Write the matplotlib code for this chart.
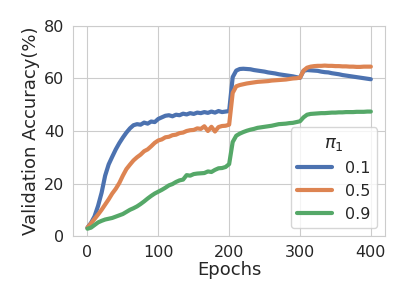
import matplotlib
matplotlib.use("Agg")
import matplotlib.pyplot as plt
import seaborn as sns
import numpy as np

sns.set_style("whitegrid")
plt.rcParams['font.family'] = ['DejaVu Sans']

epochs = list(range(0, 401, 5))

acc_01 = [3.2, 5.0, 7.5, 11.5, 16.5, 23.0, 27.3, 30.2, 33.0, 35.4,
          37.5, 39.4, 41.0, 42.2, 42.6, 42.4, 43.2, 42.8, 43.6, 43.4,
          44.6, 45.2, 45.8, 46.0, 45.6, 46.2, 46.0, 46.6, 46.3, 46.8,
          46.5, 47.0, 46.8, 47.2, 46.9, 47.4, 47.0, 47.6, 47.2, 47.4,
          47.6, 60.5, 63.0, 63.6, 63.7, 63.6, 63.5, 63.2, 63.0, 62.8,
          62.6, 62.3, 62.1, 61.9, 61.6, 61.4, 61.2, 61.0, 60.8, 60.5,
          60.2, 62.9, 63.2, 63.1, 63.0, 62.9, 62.6, 62.4, 62.3, 62.0,
          61.8, 61.6, 61.3, 61.1, 60.9, 60.7, 60.5, 60.3, 60.1, 59.9,
          59.7]

acc_05 = [3.2, 4.8, 6.5, 8.2, 10.0, 12.0, 14.0, 16.2, 18.0, 20.2,
          23.0, 25.5, 27.2, 28.8, 30.0, 31.0, 32.3, 33.0, 34.2, 35.5,
          36.4, 36.8, 37.6, 37.8, 38.4, 38.6, 39.2, 39.4, 40.0, 40.3,
          40.4, 41.0, 40.8, 41.8, 40.0, 41.6, 39.8, 41.5, 41.9, 42.0,
          42.4, 54.5, 57.0, 57.5, 57.8, 58.1, 58.3, 58.5, 58.7, 58.8,
          58.9, 59.0, 59.2, 59.3, 59.4, 59.5, 59.6, 59.8, 60.0, 60.1,
          60.3, 63.0, 64.1, 64.5, 64.7, 64.8, 64.8, 64.9, 64.8, 64.8,
          64.7, 64.7, 64.6, 64.6, 64.5, 64.5, 64.4, 64.4, 64.5, 64.5,
          64.5]

acc_09 = [2.8, 3.2, 4.2, 5.2, 5.8, 6.3, 6.6, 6.9, 7.4, 7.9,
          8.4, 9.2, 10.0, 10.6, 11.3, 12.2, 13.2, 14.3, 15.3, 16.2,
          16.9, 17.6, 18.4, 19.3, 19.8, 20.6, 21.2, 21.5, 23.2, 23.0,
          23.6, 23.8, 23.9, 24.0, 24.6, 24.4, 25.2, 25.8, 25.9, 26.3,
          27.4, 35.8, 38.2, 39.0, 39.6, 40.1, 40.5, 40.8, 41.2, 41.4,
          41.6, 41.8, 42.0, 42.3, 42.6, 42.7, 42.8, 43.0, 43.1, 43.4,
          43.7, 45.2, 46.2, 46.5, 46.6, 46.7, 46.8, 46.8, 46.9, 47.0,
          47.0, 47.1, 47.1, 47.2, 47.2, 47.2, 47.3, 47.3, 47.3, 47.4,
          47.4]

labels = ["0.1", "0.5", "0.9"]
series = [acc_01, acc_05, acc_09]
colors = ["#4C72B0", "#DD8452", "#55A868"]

fig = plt.figure(figsize=(4.07, 3.05), dpi=100)
ax = fig.add_axes([0.180, 0.226, 0.766, 0.689])

for lab, ys, c in zip(labels, series, colors):
    ax.plot(epochs, ys, color=c, lw=3, label=lab)

ax.set_ylim(0, 80)
ax.set_yticks([0, 20, 40, 60, 80])
ax.set_xticks([0, 100, 200, 300, 400])
ax.tick_params(labelsize=11.5, colors='#262626', pad=3)
ax.set_xlabel("Epochs", fontsize=13, color='#262626', labelpad=1)
ax.set_ylabel("Validation Accuracy(%)", fontsize=13, color='#262626', labelpad=3)

leg = ax.legend(title=r"$\pi_1$", loc="lower right", fontsize=11.5,
                title_fontsize=13, framealpha=0.8, handlelength=2.2)

fig.savefig("out.png", dpi=100)
